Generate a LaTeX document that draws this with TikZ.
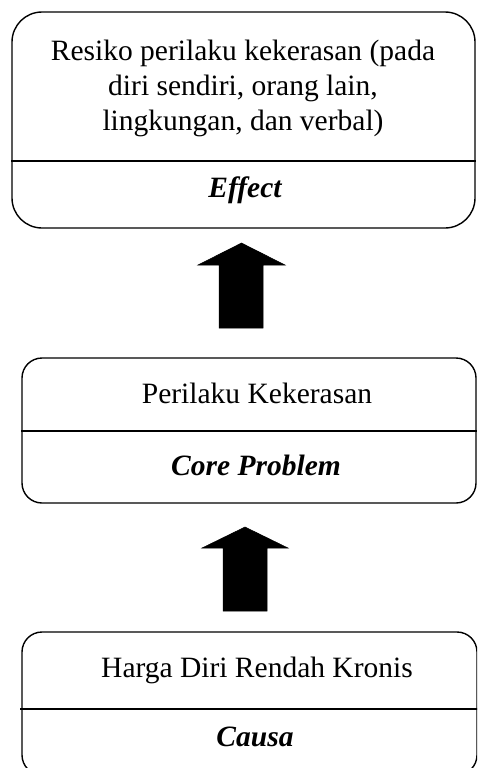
\documentclass[tikz,border=0pt]{standalone}
\usepackage{fontspec}
\setmainfont{Liberation Serif}
\begin{document}
\begin{tikzpicture}[x=1pt,y=-1pt,
  box/.style={draw, line width=1.4pt, rounded corners=#1, inner sep=0pt},
  txt/.style={align=center, inner sep=0pt, font=\fontsize{29.5}{35}\selectfont},
  lbl/.style={inner sep=0pt, font=\fontsize{29.5}{35}\selectfont\bfseries\itshape},
  divider/.style={line width=1.4pt},
  blockarrow/.style={fill=black, draw=black, line width=0.5pt}]
\useasboundingbox (0,0) rectangle (477,768);
\clip (0,0) rectangle (477,768);
% box 1
\node[box=30pt, minimum width=463pt, minimum height=216pt] (b1) at (243.5,120) {};
\node[txt] (t1) at (243,88) {Resiko perilaku kekerasan (pada\\diri sendiri, orang lain,\\lingkungan, dan verbal)};
\node[lbl] (l1) at (245,190) {Effect};
\draw[divider] (b1.west |- 0,161) -- (b1.east |- 0,161);
% arrow 1
\fill[blockarrow] (219,328) -- (263,328) -- (263,265) -- (285,265) -- (241.5,243) -- (198,265) -- (219,265) -- cycle;
% box 2
\node[box=20pt, minimum width=454pt, minimum height=145pt] (b2) at (249,430.5) {};
\node[txt] (t2) at (257,393) {Perilaku Kekerasan};
\node[lbl] (l2) at (256,465) {Core Problem};
\draw[divider] (b2.west |- 0,431) -- (b2.east |- 0,431);
% arrow 2
\fill[blockarrow] (223,611) -- (267,611) -- (267,548) -- (288,548) -- (245,527) -- (202,548) -- (223,548) -- cycle;
% box 3
\node[box=20pt, minimum width=455pt, minimum height=143pt] (b3) at (249.5,703.5) {};
\node[txt] (t3) at (257,670) {Harga Diri Rendah Kronis};
\node[lbl] (l3) at (255,737) {Causa};
\draw[divider] (20,709) -- (b3.east |- 0,709);
\end{tikzpicture}
\end{document}
